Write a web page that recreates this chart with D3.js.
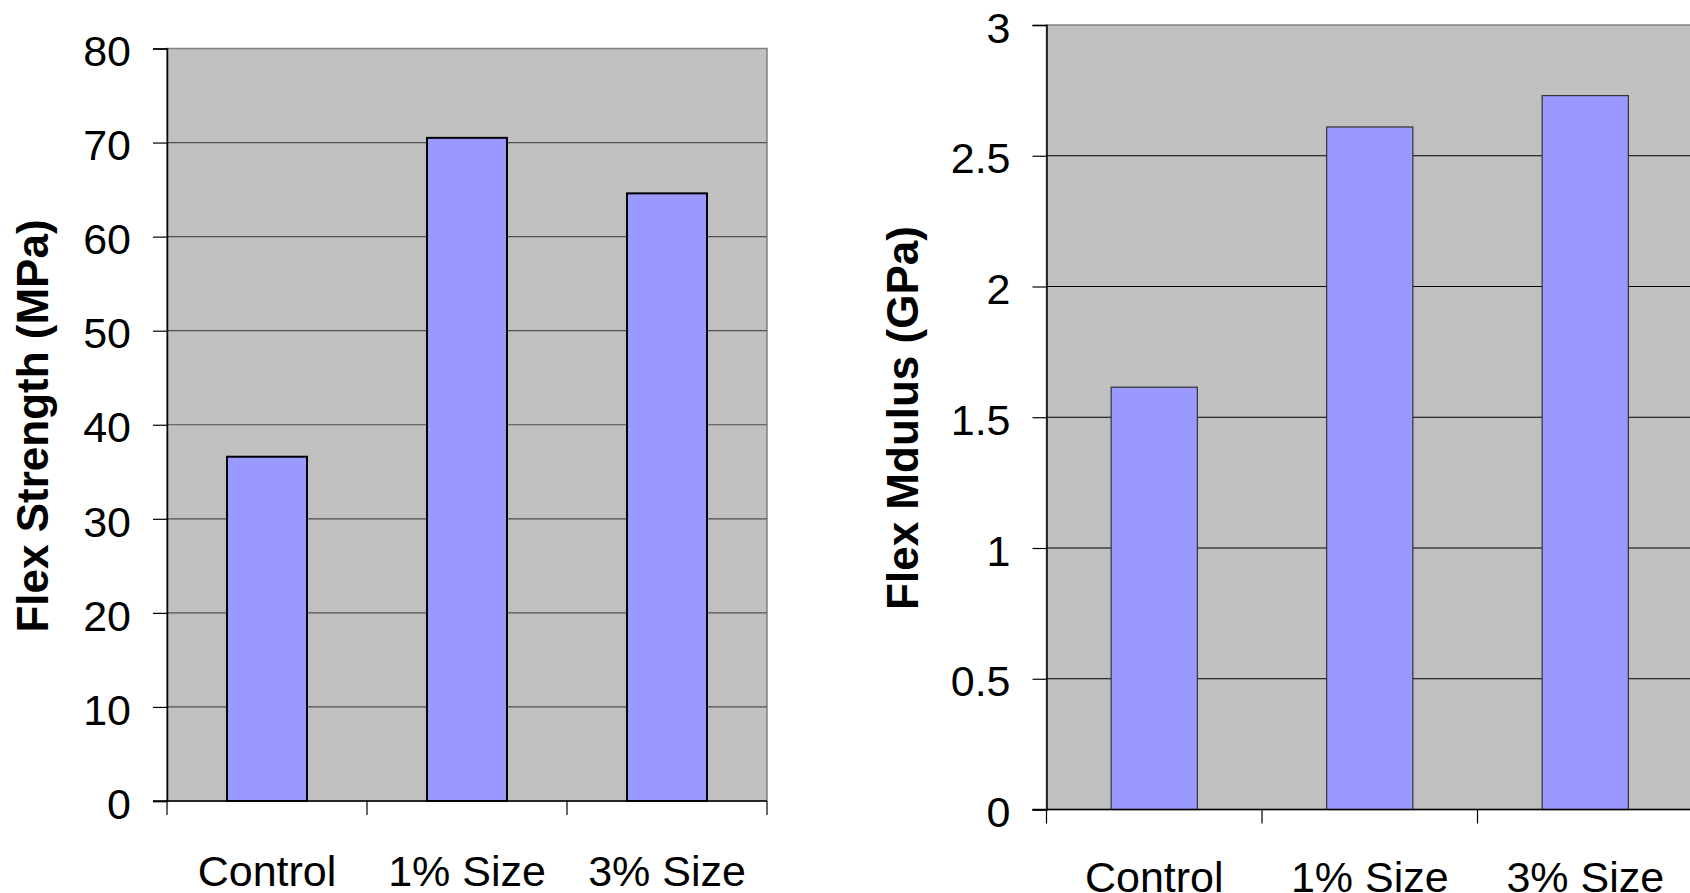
<!DOCTYPE html>
<html>
<head>
<meta charset="utf-8">
<script src="https://cdn.jsdelivr.net/npm/d3@7/dist/d3.min.js"></script>
<style>
  html, body { margin: 0; padding: 0; background: #fff; overflow: hidden; }
  svg { display: block; }
  text { font-family: "Liberation Sans", Arial, sans-serif; fill: #000; }
</style>
</head>
<body>
<svg id="chart" width="1690" height="893"></svg>
<script>
// Sample groups and measured flexural properties
const categories = ["Control", "1% Size", "3% Size"];
const flexStrength = [36.6, 70.5, 64.6];     // MPa
const flexModulus = [1.615, 2.61, 2.73];     // GPa
const strengthTicks = [0, 10, 20, 30, 40, 50, 60, 70, 80];
const modulusTicks = [0, 0.5, 1, 1.5, 2, 2.5, 3];

const svg = d3.select("#chart");

function drawPanel(cfg) {
  const g = svg.append("g");
  const x = d3.scaleBand()
    .domain(categories)
    .range([cfg.left, cfg.right])
    .paddingInner(0.6)
    .paddingOuter(0.3);
  const y = d3.scaleLinear()
    .domain([0, cfg.max])
    .range([cfg.bottom, cfg.top]);

  // plot background
  g.append("rect")
    .attr("x", cfg.left).attr("y", cfg.top)
    .attr("width", cfg.right - cfg.left)
    .attr("height", cfg.bottom - cfg.top)
    .attr("fill", "#c0c0c0")
    .attr("stroke", "#808080")
    .attr("stroke-width", 1.5);

  // horizontal gridlines
  g.selectAll(".grid")
    .data(cfg.ticks.filter(t => t > 0 && t < cfg.max))
    .enter().append("line")
    .attr("x1", cfg.left).attr("x2", cfg.right)
    .attr("y1", d => y(d)).attr("y2", d => y(d))
    .attr("stroke", cfg.gridColor)
    .attr("stroke-width", 1.2);

  // bars
  g.selectAll(".bar")
    .data(cfg.values)
    .enter().append("rect")
    .attr("x", (d, i) => x(categories[i]))
    .attr("y", d => y(d))
    .attr("width", x.bandwidth())
    .attr("height", d => cfg.bottom - y(d))
    .attr("fill", "#9999ff")
    .attr("stroke", cfg.barStroke)
    .attr("stroke-width", cfg.barStrokeWidth);

  // y axis
  const yAxis = d3.axisLeft(y)
    .tickValues(cfg.ticks)
    .tickSize(14)
    .tickFormat(d3.format("~g"));
  const ya = g.append("g")
    .attr("transform", `translate(${cfg.left},0)`)
    .call(yAxis);
  ya.select(".domain").attr("stroke", "#000").attr("stroke-width", 1.5);
  ya.selectAll(".tick line").attr("stroke", "#000").attr("stroke-width", 1.2);
  ya.selectAll(".tick text")
    .attr("font-size", 43)
    .attr("dy", "0.4em")
    .attr("x", -36);

  // x axis baseline and category boundary ticks
  const step = x.step();
  const bounds = d3.range(categories.length + 1).map(i => cfg.left + i * step);
  g.append("line")
    .attr("x1", cfg.left - 14).attr("x2", cfg.right)
    .attr("y1", cfg.bottom).attr("y2", cfg.bottom)
    .attr("stroke", "#000").attr("stroke-width", 1.5);
  g.selectAll(".xtick")
    .data(bounds)
    .enter().append("line")
    .attr("x1", d => d).attr("x2", d => d)
    .attr("y1", cfg.bottom).attr("y2", cfg.bottom + 14)
    .attr("stroke", "#000").attr("stroke-width", 1.2);

  // category labels
  g.selectAll(".xlabel")
    .data(categories)
    .enter().append("text")
    .attr("x", d => x(d) + x.bandwidth() / 2)
    .attr("y", cfg.labelY)
    .attr("text-anchor", "middle")
    .attr("font-size", 43)
    .text(d => d);

  // axis title
  g.append("text")
    .attr("transform", `translate(${cfg.titleX},${cfg.titleY}) rotate(-90)`)
    .attr("text-anchor", "middle")
    .attr("font-size", 44)
    .attr("font-weight", "bold")
    .text(cfg.title);
}

drawPanel({
  values: flexStrength, max: 80, ticks: strengthTicks,
  left: 167, right: 767, top: 48.5, bottom: 801,
  gridColor: "#505050", barStroke: "#000", barStrokeWidth: 2,
  labelY: 886, title: "Flex Strength (MPa)", titleX: 48, titleY: 426
});

drawPanel({
  values: flexModulus, max: 3, ticks: modulusTicks,
  left: 1046.5, right: 1693, top: 25, bottom: 809.5,
  gridColor: "#000", barStroke: "#333", barStrokeWidth: 1.2,
  labelY: 892, title: "Flex Mdulus (GPa)", titleX: 918, titleY: 418
});
</script>
</body>
</html>
